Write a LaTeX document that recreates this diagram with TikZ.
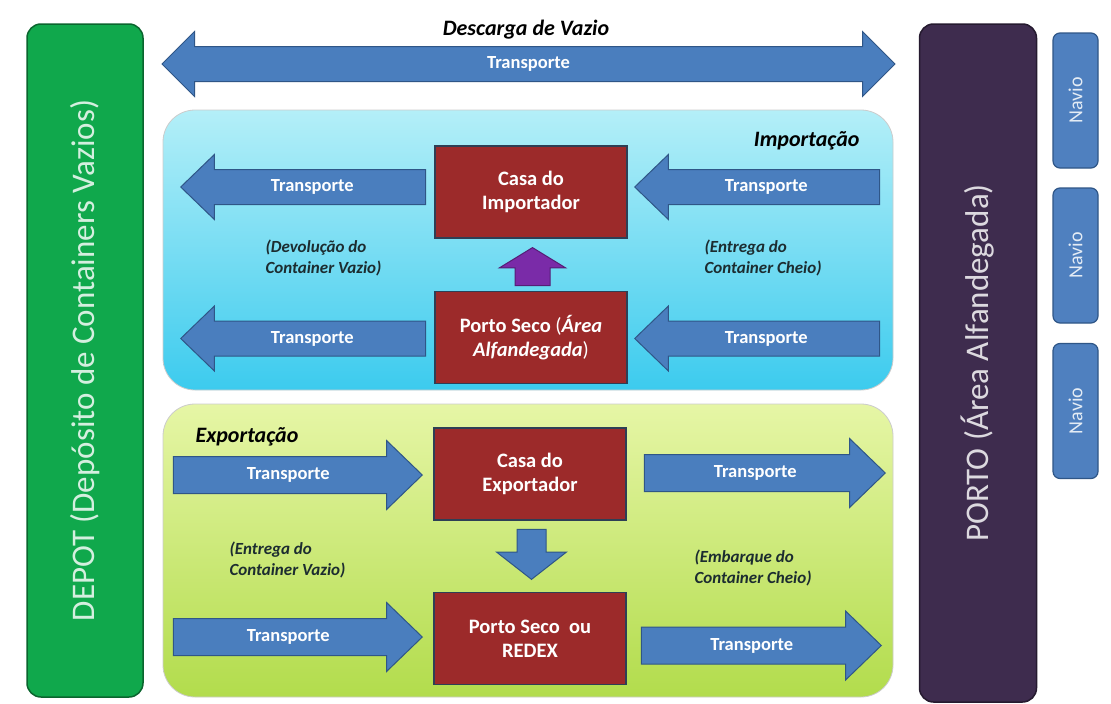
\documentclass[tikz,border=0pt]{standalone}
\usepackage{fontspec}
\setmainfont{Carlito}
\usetikzlibrary{shapes.arrows,positioning}

\definecolor{depotgreen}{HTML}{10A84C}
\definecolor{portopurple}{HTML}{3E2C4E}
\definecolor{navioblue}{HTML}{4F80BF}
\definecolor{arrowblue}{HTML}{4A7EBE}
\definecolor{arrowedge}{HTML}{2F5687}
\definecolor{housered}{HTML}{9C2A2A}
\definecolor{houseedge}{HTML}{2E3F55}
\definecolor{cyantop}{HTML}{B4EFF8}
\definecolor{cyanbot}{HTML}{3CCBEE}
\definecolor{limetop}{HTML}{E6F6A6}
\definecolor{limebot}{HTML}{B2DC4C}
\definecolor{uppurple}{HTML}{7A2BA8}
\definecolor{notetext}{HTML}{1C2C30}

\tikzset{
  sidebox/.style={draw=#1!60!black, fill=#1, line width=1.5pt, rounded corners=14pt,
    text=white!82!#1, rotate=90, font=\fontsize{33}{36}\selectfont},
  naviobox/.style={draw=arrowedge, fill=navioblue, line width=1.2pt, rounded corners=7pt,
    rotate=90, minimum width=135pt, minimum height=45pt, text=white!85!navioblue,
    font=\fontsize{20}{22}\selectfont},
  panel/.style={draw=white!80!black, line width=0.8pt, rounded corners=32pt,
    minimum width=730pt},
  house/.style={draw=houseedge, line width=1.2pt, fill=housered, text=white, align=center,
    minimum width=192pt, minimum height=92pt, font=\bfseries\fontsize{20.5}{24}\selectfont},
  transp/.style={single arrow, draw=arrowedge, fill=arrowblue, line width=1pt, text=white,
    single arrow head extend=15pt, single arrow tip angle=88, anchor=tip,
    text height=13pt, text depth=4pt, inner xsep=2pt, inner ysep=8.5pt,
    minimum height=245pt, font=\bfseries\fontsize{18.5}{20}\selectfont},
  wide/.style={inner ysep=9.5pt, single arrow head extend=16pt},
  note/.style={align=left, text=notetext, font=\bfseries\itshape\fontsize{17}{21}\selectfont},
  title/.style={font=\bfseries\itshape\fontsize{22}{24}\selectfont}
}

\begin{document}
\begin{tikzpicture}[x=1pt,y=-1pt]
\useasboundingbox[fill=white] (0,0) rectangle (1111,704);

% fundos de importacao e exportacao
\node[panel, top color=cyantop, bottom color=cyanbot, minimum height=280pt] (imp) at (528,250) {};
\node[panel, top color=limetop, bottom color=limebot, minimum height=293pt] (exp) at (528,550.5) {};

% depot, porto e navios
\node[sidebox=depotgreen, minimum width=673pt, minimum height=116pt]
  (depot) at (85,360.5) {DEPOT (Depósito de Containers Vazios)};
\node[sidebox=portopurple, minimum width=678pt, minimum height=117pt]
  (porto) at (978,363) {PORTO (Área Alfandegada)};
\node[naviobox] (navio1) at (1075.5,100.5) {Navio};
\node[naviobox] (navio2) at (1075.5,255.5) {Navio};
\node[naviobox] (navio3) at (1075.5,411) {Navio};

% descarga de vazio
\node[double arrow, draw=arrowedge, fill=arrowblue, line width=1pt, text=white,
  double arrow head extend=15pt, double arrow tip angle=90,
  text height=13pt, text depth=4pt, inner xsep=2pt, inner ysep=8.5pt,
  minimum height=733pt, font=\bfseries\fontsize{18.5}{20}\selectfont]
  (vazio) at (528.5,64) {Transporte};
\node[title] (descarga) at (526,30) {Descarga de Vazio};

% importacao
\node[title, anchor=east] (imptitle) at (863,141) {Importação};
\node[house] (casaimp) at (531,192) {Casa do\\Importador};
\node[house] (secoimp) at (531,337.5) {Porto Seco \textmd{(}\textit{Área}\\\textit{Alfandegada}\textmd{)}};
\node[single arrow, rotate=90, anchor=tip, draw=uppurple!70!black, fill=uppurple, line width=1pt,
  single arrow head extend=15.5pt, single arrow tip angle=117, inner xsep=0pt, inner ysep=17pt,
  minimum height=38pt] (subida) at (532.5,247) {};
\node[transp, shape border rotate=180] (impL1) at (180,187) {Transporte};
\node[transp, shape border rotate=180] (impL2) at (180,338.5) {Transporte};
\node[transp, shape border rotate=180] (impR1) at (634,187) {Transporte};
\node[transp, shape border rotate=180] (impR2) at (634,338.5) {Transporte};
\node[note, anchor=west] (devolucao) at (262,258) {(Devolução do\\Container Vazio)};
\node[note, anchor=west] (entregacheio) at (701,258) {(Entrega do\\Container Cheio)};

% exportacao
\node[title, anchor=west] (exptitle) at (192,437) {Exportação};
\node[house] (casaexp) at (530,474) {Casa do\\Exportador};
\node[house] (secoexp) at (530,638.5) {Porto Seco~~ou\\REDEX};
\node[single arrow, rotate=-90, anchor=tip, draw=arrowedge, fill=arrowblue, line width=1pt,
  single arrow head extend=20.5pt, single arrow tip angle=104, inner xsep=0pt, inner ysep=14pt,
  minimum height=50pt] (descida) at (531.5,580) {};
\node[transp, wide, minimum height=249pt] (expL1) at (423,475) {Transporte};
\node[transp, wide, minimum height=249pt] (expL2) at (423,637) {Transporte};
\node[transp, wide, minimum height=241pt] (expR1) at (886,473) {Transporte};
\node[transp, wide, minimum height=240pt] (expR2) at (882,645.5) {Transporte};
\node[note, anchor=west] (entregavazio) at (226,560) {(Entrega do\\Container Vazio)};
\node[note, anchor=west] (embarque) at (691,568) {(Embarque do\\Container Cheio)};
\end{tikzpicture}
\end{document}
